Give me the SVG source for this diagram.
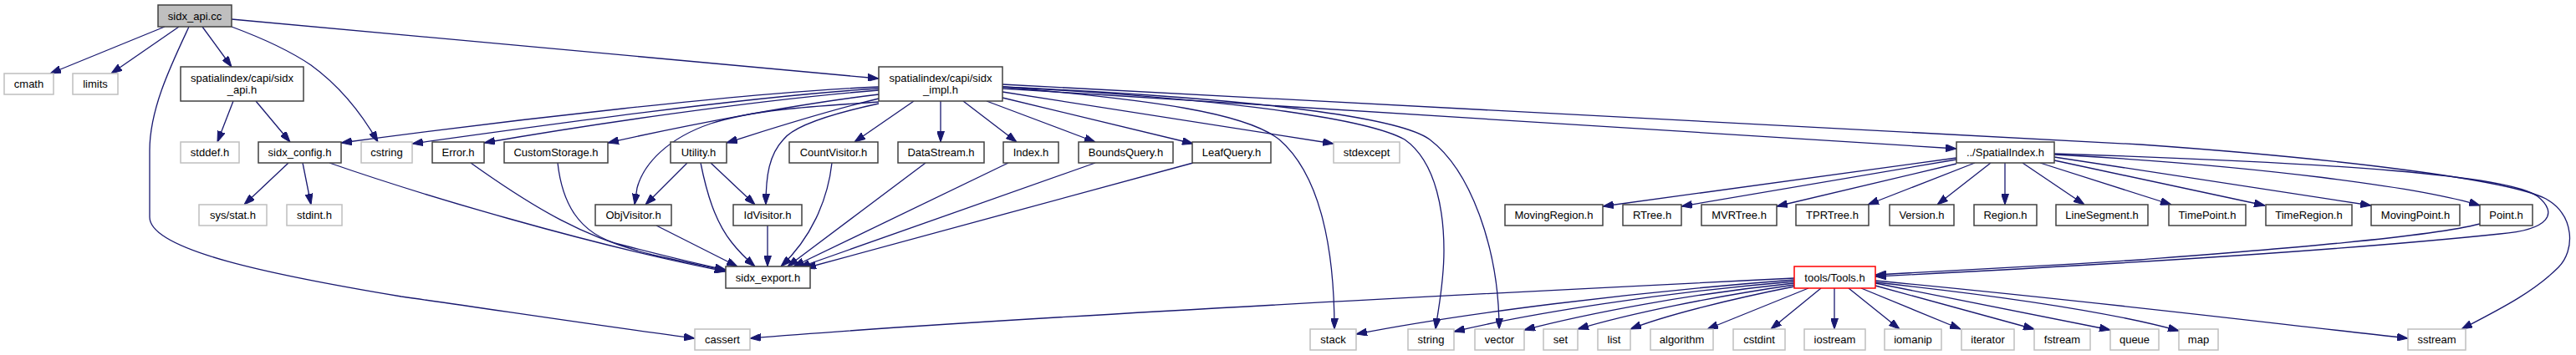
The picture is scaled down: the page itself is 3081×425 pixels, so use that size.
<svg xmlns="http://www.w3.org/2000/svg" width="3081" height="425" viewBox="0 0 3081 425">
<style>
.n rect{fill:#ffffff;stroke:#404040;stroke-width:1.5}
.x rect{fill:#ffffff;stroke:#bfbfbf;stroke-width:1.5}
.m rect{fill:#bfbfbf;stroke:#404040;stroke-width:1.5}
.r rect{fill:#ffffff;stroke:#ff0000;stroke-width:1.5}
text{font-family:"Liberation Sans",Arial,sans-serif;font-size:13px;fill:#000;text-anchor:middle}
#edges path{fill:none;stroke:#191970;stroke-width:1.3;marker-end:url(#ah)}
</style>
<defs>
<marker id="ah" markerUnits="userSpaceOnUse" markerWidth="13" markerHeight="9" viewBox="0 0 13 9" refX="13" refY="4.5" orient="auto">
<path d="M0,0 L13,4.5 L0,9 z" fill="#191970" stroke="#191970" stroke-width="1"/>
</marker>
</defs>
<rect x="0" y="0" width="3081" height="425" fill="#ffffff"/>
<g id="edges">
<path d="M197,32 L60,88"/>
<path d="M214,32 L133,88"/>
<path d="M242,32 L277,80"/>
<path d="M277,32 C320,48 350,63 372,78 C405,102 432,135 452,170"/>
<path d="M277,23 L1051,94"/>
<path d="M226,32 C205,77 179,130 179,180 L179,260 C179,300 330,330 480,355 C600,372 730,392 831,405"/>
<path d="M279,121 L260,170"/>
<path d="M306,121 L347,170"/>
<path d="M345,195 L292,245"/>
<path d="M362,195 L372,245"/>
<path d="M394,195 C500,232 700,292 868,325"/>
<path d="M1051,104 C900,110 600,145 408,171"/>
<path d="M1051,106 C900,115 650,150 493,172"/>
<path d="M1051,108 C900,120 700,150 579,171"/>
<path d="M1051,113 C950,125 820,150 727,171"/>
<path d="M1051,118 C980,135 920,155 869,171"/>
<path d="M1051,122 C960,128 900,132 850,148 C800,165 770,195 762,225 L759,245"/>
<path d="M1051,124 C1000,135 950,150 937,167 C920,185 916,210 916,245"/>
<path d="M1093,121 L1022,170"/>
<path d="M1125,121 L1125,170"/>
<path d="M1152,121 L1216,170"/>
<path d="M1180,121 L1310,170"/>
<path d="M1199,117 L1427,172"/>
<path d="M1199,110 L1595,172"/>
<path d="M1199,104 C1380,120 1490,135 1530,167 C1580,210 1596,300 1596,394"/>
<path d="M1199,104 C1500,120 1640,145 1680,167 C1720,195 1727,260 1727,300 C1727,340 1720,370 1717,394"/>
<path d="M1199,104 C1550,120 1680,145 1710,167 C1760,205 1793,300 1793,394"/>
<path d="M1199,106 L2340,178"/>
<path d="M1199,101 L2560,173 C2800,190 3000,215 3045,238 C3080,258 3080,300 3060,320 C3030,350 2990,370 2944,394"/>
<path d="M822,195 L772,245"/>
<path d="M850,195 L903,245"/>
<path d="M838,195 C845,230 855,265 875,290 C885,303 895,312 903,319"/>
<path d="M785,270 L882,319"/>
<path d="M918,270 L918,319"/>
<path d="M563,195 C640,250 700,285 780,305 C820,314 850,320 868,324"/>
<path d="M667,195 C672,240 690,280 743,293 C790,305 830,315 868,323"/>
<path d="M995,195 C990,240 970,285 934,319"/>
<path d="M1107,195 L942,319"/>
<path d="M1206,195 L949,319"/>
<path d="M1310,195 L956,320"/>
<path d="M1427,195 L963,321"/>
<path d="M2340,189 L1917,247"/>
<path d="M2340,191 L2011,247"/>
<path d="M2340,196 L2125,247"/>
<path d="M2362,195 L2234,245"/>
<path d="M2381,195 L2317,245"/>
<path d="M2398,195 L2398,245"/>
<path d="M2419,195 L2493,245"/>
<path d="M2440,195 L2597,245"/>
<path d="M2457,192 L2709,246"/>
<path d="M2457,188 L2836,246"/>
<path d="M2457,185 C2700,198 2900,225 2966,246"/>
<path d="M2457,184 C2800,195 3000,210 3035,235 C3060,255 3050,275 2990,280 C2800,300 2500,318 2243,331"/>
<path d="M2966,268 C2900,285 2700,300 2560,311 C2450,318 2330,325 2243,329"/>
<path d="M2146,333 C1800,350 1200,380 897,405"/>
<path d="M2146,335 C1950,350 1750,375 1622,400"/>
<path d="M2146,337 C1990,350 1830,375 1739,397"/>
<path d="M2146,339 C2020,352 1900,375 1823,395"/>
<path d="M2146,341 C2050,355 1950,375 1887,394"/>
<path d="M2146,343 C2070,358 1990,378 1950,394"/>
<path d="M2163,345 L2042,394"/>
<path d="M2178,345 L2118,394"/>
<path d="M2194,345 L2194,394"/>
<path d="M2211,345 L2272,394"/>
<path d="M2226,345 L2345,394"/>
<path d="M2243,342 L2433,394"/>
<path d="M2243,339 L2524,395"/>
<path d="M2243,338 C2400,355 2530,375 2606,396"/>
<path d="M2243,336 C2500,360 2700,385 2880,405"/>
</g>
<g id="node_sidx_api_cc" class="m"><rect x="189" y="6" width="88" height="26"/><text x="233" y="23.5">sidx_api.cc</text></g>
<g id="node_cmath" class="x"><rect x="5" y="88" width="59" height="25"/><text x="34.5" y="105">cmath</text></g>
<g id="node_limits" class="x"><rect x="87" y="88" width="54" height="25"/><text x="114" y="105">limits</text></g>
<g id="node_sidx_api_h" class="n"><rect x="216" y="80" width="147" height="41"/><text x="289.5" y="98">spatialindex/capi/sidx</text><text x="289.5" y="112">_api.h</text></g>
<g id="node_sidx_impl_h" class="n"><rect x="1051" y="80" width="148" height="41"/><text x="1125" y="98">spatialindex/capi/sidx</text><text x="1125" y="112">_impl.h</text></g>
<g id="node_stddef" class="x"><rect x="216" y="170" width="70" height="25"/><text x="251" y="187">stddef.h</text></g>
<g id="node_sidx_config" class="n"><rect x="309" y="170" width="99" height="25"/><text x="358.5" y="187">sidx_config.h</text></g>
<g id="node_cstring" class="x"><rect x="432" y="170" width="61" height="25"/><text x="462.5" y="187">cstring</text></g>
<g id="node_error" class="n"><rect x="517" y="170" width="62" height="25"/><text x="548" y="187">Error.h</text></g>
<g id="node_customstorage" class="n"><rect x="603" y="170" width="124" height="25"/><text x="665" y="187">CustomStorage.h</text></g>
<g id="node_utility" class="n"><rect x="802" y="170" width="67" height="25"/><text x="835.5" y="187">Utility.h</text></g>
<g id="node_countvisitor" class="n"><rect x="944" y="170" width="106" height="25"/><text x="997" y="187">CountVisitor.h</text></g>
<g id="node_datastream" class="n"><rect x="1074" y="170" width="103" height="25"/><text x="1125.5" y="187">DataStream.h</text></g>
<g id="node_index" class="n"><rect x="1200" y="170" width="66" height="25"/><text x="1233" y="187">Index.h</text></g>
<g id="node_boundsquery" class="n"><rect x="1290" y="170" width="113" height="25"/><text x="1346.5" y="187">BoundsQuery.h</text></g>
<g id="node_leafquery" class="n"><rect x="1426" y="170" width="94" height="25"/><text x="1473" y="187">LeafQuery.h</text></g>
<g id="node_stdexcept" class="x"><rect x="1595" y="170" width="79" height="25"/><text x="1634.5" y="187">stdexcept</text></g>
<g id="node_spatialindex" class="n"><rect x="2340" y="170" width="117" height="25"/><text x="2398.5" y="187">../SpatialIndex.h</text></g>
<g id="node_sysstat" class="x"><rect x="238" y="245" width="81" height="25"/><text x="278.5" y="262">sys/stat.h</text></g>
<g id="node_stdint" class="x"><rect x="343" y="245" width="66" height="25"/><text x="376" y="262">stdint.h</text></g>
<g id="node_objvisitor" class="n"><rect x="712" y="245" width="91" height="25"/><text x="757.5" y="262">ObjVisitor.h</text></g>
<g id="node_idvisitor" class="n"><rect x="877" y="245" width="82" height="25"/><text x="918" y="262">IdVisitor.h</text></g>
<g id="node_movingregion" class="n"><rect x="1800" y="245" width="117" height="25"/><text x="1858.5" y="262">MovingRegion.h</text></g>
<g id="node_rtree" class="n"><rect x="1941" y="245" width="70" height="25"/><text x="1976" y="262">RTree.h</text></g>
<g id="node_mvrtree" class="n"><rect x="2035" y="245" width="90" height="25"/><text x="2080" y="262">MVRTree.h</text></g>
<g id="node_tprtree" class="n"><rect x="2148" y="245" width="87" height="25"/><text x="2191.5" y="262">TPRTree.h</text></g>
<g id="node_version" class="n"><rect x="2260" y="245" width="77" height="25"/><text x="2298.5" y="262">Version.h</text></g>
<g id="node_region" class="n"><rect x="2361" y="245" width="75" height="25"/><text x="2398.5" y="262">Region.h</text></g>
<g id="node_linesegment" class="n"><rect x="2459" y="245" width="110" height="25"/><text x="2514" y="262">LineSegment.h</text></g>
<g id="node_timepoint" class="n"><rect x="2594" y="245" width="92" height="25"/><text x="2640" y="262">TimePoint.h</text></g>
<g id="node_timeregion" class="n"><rect x="2710" y="245" width="103" height="25"/><text x="2761.5" y="262">TimeRegion.h</text></g>
<g id="node_movingpoint" class="n"><rect x="2836" y="245" width="106" height="25"/><text x="2889" y="262">MovingPoint.h</text></g>
<g id="node_point" class="n"><rect x="2966" y="245" width="63" height="25"/><text x="2997.5" y="262">Point.h</text></g>
<g id="node_sidx_export" class="n"><rect x="868" y="319" width="101" height="26"/><text x="918.5" y="336.5">sidx_export.h</text></g>
<g id="node_tools" class="r"><rect x="2146" y="319" width="97" height="26"/><text x="2194.5" y="336.5">tools/Tools.h</text></g>
<g id="node_cassert" class="x"><rect x="831" y="394" width="66" height="25"/><text x="864" y="411">cassert</text></g>
<g id="node_stack" class="x"><rect x="1567" y="394" width="55" height="25"/><text x="1594.5" y="411">stack</text></g>
<g id="node_string" class="x"><rect x="1684" y="394" width="55" height="25"/><text x="1711.5" y="411">string</text></g>
<g id="node_vector" class="x"><rect x="1764" y="394" width="59" height="25"/><text x="1793.5" y="411">vector</text></g>
<g id="node_set" class="x"><rect x="1846" y="394" width="41" height="25"/><text x="1866.5" y="411">set</text></g>
<g id="node_list" class="x"><rect x="1911" y="394" width="39" height="25"/><text x="1930.5" y="411">list</text></g>
<g id="node_algorithm" class="x"><rect x="1974" y="394" width="75" height="25"/><text x="2011.5" y="411">algorithm</text></g>
<g id="node_cstdint" class="x"><rect x="2073" y="394" width="62" height="25"/><text x="2104" y="411">cstdint</text></g>
<g id="node_iostream" class="x"><rect x="2158" y="394" width="73" height="25"/><text x="2194.5" y="411">iostream</text></g>
<g id="node_iomanip" class="x"><rect x="2254" y="394" width="68" height="25"/><text x="2288" y="411">iomanip</text></g>
<g id="node_iterator" class="x"><rect x="2346" y="394" width="63" height="25"/><text x="2377.5" y="411">iterator</text></g>
<g id="node_fstream" class="x"><rect x="2433" y="394" width="67" height="25"/><text x="2466.5" y="411">fstream</text></g>
<g id="node_queue" class="x"><rect x="2524" y="394" width="58" height="25"/><text x="2553" y="411">queue</text></g>
<g id="node_map" class="x"><rect x="2606" y="394" width="47" height="25"/><text x="2629.5" y="411">map</text></g>
<g id="node_sstream" class="x"><rect x="2880" y="394" width="69" height="25"/><text x="2914.5" y="411">sstream</text></g>
</svg>
